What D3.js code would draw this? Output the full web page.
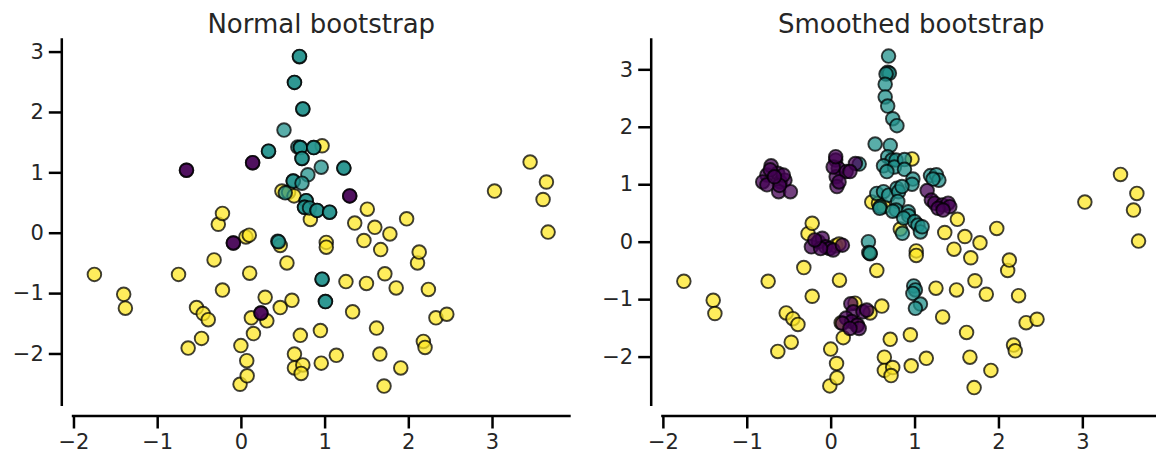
<!DOCTYPE html>
<html>
<head>
<meta charset="utf-8">
<script src="https://cdn.jsdelivr.net/npm/d3@7"></script>
<style>
  body { margin: 0; background: #fff; }
  svg text { font-family: "DejaVu Sans", sans-serif; fill: #262626; }
</style>
</head>
<body>
<svg width="1156" height="455"></svg>
<script>
// original sample, shown in both panels
let yellowPts = [
    [-1.75, -0.69], [-1.40, -1.02], [-1.38, -1.25], [-0.745, -0.69], [-0.63, -1.91],
    [-0.53, -1.24], [-0.45, -1.34], [-0.39, -1.44], [-0.47, -1.75], [-0.32, -0.45],
    [-0.27, 0.14], [-0.22, 0.32], [-0.22, -0.95], [-0.01, -2.51], [0.00, -1.87],
    [0.07, -2.12], [0.075, -2.37], [0.06, -0.07], [0.10, -0.04], [0.105, -0.67],
    [0.125, -1.41], [0.15, -1.67], [0.29, -1.07], [0.31, -1.46], [0.47, -1.24],
    [0.55, -0.50], [0.61, -1.12], [0.64, -2.01], [0.64, -2.24], [0.71, -1.70],
    [0.74, -2.19], [0.72, -2.33], [0.95, -1.62], [0.96, -2.16], [1.14, -2.03],
    [1.02, -0.16], [1.02, -0.24], [1.255, -0.81], [1.335, -1.31], [1.36, 0.16],
    [1.47, -0.13], [1.50, -0.84], [1.51, 0.39], [1.60, 0.09], [1.62, -1.58],
    [1.66, -2.01], [1.67, -0.28], [1.72, -0.68], [1.78, -0.02], [1.71, -2.54],
    [1.855, -0.915], [1.91, -2.24], [1.98, 0.23], [2.11, -0.50], [2.13, -0.32],
    [2.18, -1.80], [2.20, -1.90], [2.24, -0.94], [2.33, -1.41], [2.46, -1.35],
    [3.03, 0.69], [3.455, 1.17], [3.65, 0.84], [3.61, 0.55], [3.67, 0.01],
    [0.97, 1.44], [0.49, 0.69], [0.57, 0.67], [0.635, 0.61], [0.83, 0.22],
    [0.47, -0.21]
];

// bootstrap draws: repeated points are listed twice
let normalTeal = [
    [0.70, 2.915], [0.70, 2.92], [0.64, 2.49], [0.64, 2.49], [0.74, 2.05], [0.74, 2.05],
    [0.515, 1.70], [0.33, 1.35], [0.33, 1.35], [0.68, 1.42], [0.71, 1.41], [0.71, 1.41],
    [0.87, 1.41], [0.87, 1.41], [0.73, 1.23], [0.73, 1.23], [0.96, 1.085],
    [1.23, 1.07], [1.23, 1.07], [0.80, 0.96], [0.625, 0.855], [0.625, 0.855],
    [0.73, 0.82], [0.53, 0.66], [0.78, 0.53], [0.78, 0.53], [0.76, 0.42], [0.76, 0.42],
    [0.82, 0.41], [0.91, 0.37], [0.91, 0.37], [1.06, 0.34], [1.06, 0.34],
    [0.44, -0.14], [0.45, -0.15], [0.97, -0.77], [0.97, -0.77], [1.01, -1.14], [1.01, -1.14]
];

let normalPurple = [
    [-0.65, 1.035], [-0.65, 1.035], [0.14, 1.16], [0.14, 1.16], [1.30, 0.61], [1.30, 0.61],
    [-0.09, -0.17], [-0.09, -0.17], [0.24, -1.33], [0.24, -1.33]
];

let smoothTeal = [
    [0.69, 3.23], [0.68, 2.95], [0.70, 2.93], [0.66, 2.92], [0.65, 2.74],
    [0.65, 2.52], [0.68, 2.36], [0.74, 2.14], [0.79, 2.02], [0.53, 1.70],
    [0.71, 1.675], [0.68, 1.48], [0.73, 1.42], [0.63, 1.32], [0.78, 1.42],
    [0.76, 1.30], [0.88, 1.43], [0.88, 1.26], [0.67, 1.22], [0.98, 1.09],
    [0.97, 1.00], [0.34, 1.35], [1.19, 1.15], [1.26, 1.165], [1.29, 1.07],
    [1.22, 1.09], [0.55, 0.84], [0.63, 0.87], [0.69, 0.81], [0.79, 0.93],
    [0.81, 0.87], [0.85, 0.96], [0.59, 0.61], [0.585, 0.58], [0.80, 0.70],
    [0.78, 0.55], [0.74, 0.53], [0.925, 0.52], [0.93, 0.45], [0.87, 0.41],
    [0.855, 0.145], [1.00, 0.35], [1.04, 0.29], [1.07, 0.17], [1.09, 0.26],
    [0.45, 0.00], [0.455, -0.19], [0.47, -0.20], [0.99, -0.77], [1.01, -0.84],
    [0.98, -0.90], [1.07, -1.085], [1.01, -1.16]
];

let smoothPurple = [
    [-0.76, 1.16], [-0.71, 1.32], [-0.81, 1.04], [-0.63, 1.19], [-0.60, 1.04],
    [-0.545, 1.07], [-0.62, 0.87], [-0.48, 0.87], [-0.72, 1.25], [-0.565, 1.16],
    [-0.61, 0.98], [-0.76, 0.99], [-0.67, 1.13],
    [0.06, 1.42], [0.09, 1.28], [0.066, 1.13], [0.075, 0.96], [0.185, 1.22],
    [0.295, 1.36], [0.23, 1.22], [0.03, 1.30], [0.06, 1.48], [0.10, 1.04],
    [1.15, 0.89], [1.20, 0.725], [1.24, 0.67], [1.33, 0.64], [1.40, 0.67],
    [1.42, 0.61], [1.28, 0.58], [1.34, 0.55],
    [-0.23, -0.09], [-0.145, 0.00], [-0.10, 0.06], [-0.06, -0.09], [-0.013, -0.12],
    [0.03, -0.145], [0.14, -0.06], [-0.12, -0.12], [-0.19, 0.03],
    [0.24, -1.08], [0.27, -1.22], [0.185, -1.33], [0.25, -1.39], [0.32, -1.45],
    [0.34, -1.51], [0.385, -1.22], [0.14, -1.42], [0.23, -1.51], [0.43, -1.19]
];

let titles = ["Normal bootstrap", "Smoothed bootstrap"];
let xTicks = [-2, -1, 0, 1, 2, 3];
let yTicks = [-2, -1, 0, 1, 2, 3];

let colors = { yellow: "#fde725", teal: "#21918c", purple: "#440154" };

let panels = [
    { title: titles[0], left: 71.8, right: 570.7, xdom: [-2.02, 3.94], ydom: [-2.87, 3.22],
      groups: [[yellowPts, colors.yellow], [normalTeal, colors.teal], [normalPurple, colors.purple]] },
    { title: titles[1], left: 661.2, right: 1161.2, xdom: [-2.02, 3.94], ydom: [-2.86, 3.54],
      groups: [[yellowPts, colors.yellow], [smoothTeal, colors.teal], [smoothPurple, colors.purple]] }
];

let plotTop = 38.3, plotBottom = 406, offset = 10;
let svg = d3.select("svg");

function fmt(d) { return d < 0 ? "\u2212" + Math.abs(d) : d; }

panels.forEach(function (p) {
    let x = d3.scaleLinear().domain(p.xdom).range([p.left, p.right]);
    let y = d3.scaleLinear().domain(p.ydom).range([plotBottom, plotTop]);

    let g = svg.append("g");

    p.groups.forEach(function (grp) {
        g.append("g")
            .selectAll("circle")
            .data(grp[0])
            .join("circle")
            .attr("cx", function (d) { return x(d[0]); })
            .attr("cy", function (d) { return y(d[1]); })
            .attr("r", 6.8)
            .attr("fill", grp[1])
            .attr("fill-opacity", 0.75)
            .attr("stroke", "#000")
            .attr("stroke-opacity", 0.75)
            .attr("stroke-width", 1.9);
    });

    let xAxis = g.append("g")
        .attr("transform", "translate(0," + (plotBottom + offset) + ")")
        .call(d3.axisBottom(x).tickValues(xTicks).tickSize(12.5).tickPadding(6).tickFormat(fmt));

    let yAxis = g.append("g")
        .attr("transform", "translate(" + (p.left - offset) + ",0)")
        .call(d3.axisLeft(y).tickValues(yTicks).tickSize(13).tickPadding(5).tickFormat(fmt));

    [xAxis, yAxis].forEach(function (a) {
        a.select(".domain").attr("stroke", "#000").attr("stroke-width", 2.5);
        a.selectAll(".tick line").attr("stroke", "#000").attr("stroke-width", 2.5);
        a.selectAll(".tick text").attr("font-size", 21).attr("fill", "#111")
            .attr("font-family", "DejaVu Sans");
    });
    // spines span the full data limits, no end caps
    xAxis.select(".domain").attr("d", "M" + p.left + ",0H" + p.right);
    yAxis.select(".domain").attr("d", "M0," + plotBottom + "V" + plotTop);

    g.append("text")
        .attr("x", (p.left + p.right) / 2)
        .attr("y", 32.5)
        .attr("text-anchor", "middle")
        .attr("font-size", 26)
        .attr("fill", "#111")
        .text(p.title);
});
</script>
</body>
</html>
